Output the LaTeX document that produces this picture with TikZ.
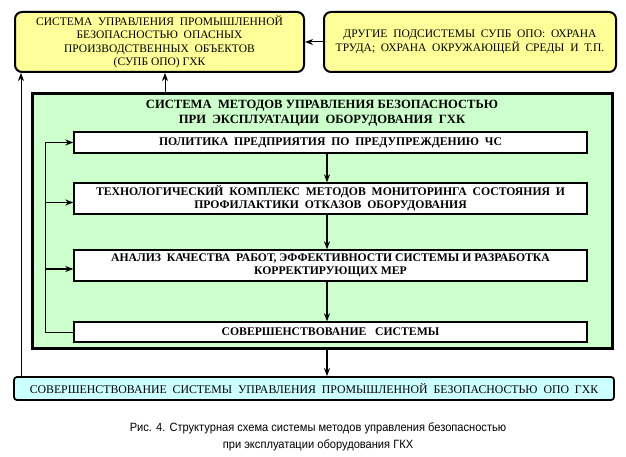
\documentclass[tikz,border=0pt]{standalone}
\usepackage{fontspec}
\setmainfont{Liberation Serif}
\newfontfamily\capfont{Liberation Sans}
\usetikzlibrary{arrows.meta,calc}
\definecolor{yel}{HTML}{FFFF99}
\definecolor{grn}{HTML}{CCFFCC}
\definecolor{cyn}{HTML}{CCFFFF}
\tikzset{
  ybox/.style={draw, line width=2pt, fill=yel, rounded corners=7pt, align=center, inner sep=0pt, font=\fontsize{11.5}{13.5}\selectfont},
  wbox/.style={draw, line width=1.3pt, fill=white, minimum width=513pt, align=center, inner sep=0pt, font=\bfseries\fontsize{11.7}{13}\selectfont},
  tip/.style={-{Stealth[length=8pt,width=6pt,inset=2.5pt]}},
  thin/.style={line width=1pt},
  thick2/.style={line width=1.8pt},
}
\begin{document}
\begin{tikzpicture}[x=1pt,y=-1pt]
\useasboundingbox (0,0) rectangle (626,457);
\node[ybox, minimum width=289pt, minimum height=60pt] (tl) at (159.5,42) {СИСТЕМА\ \ УПРАВЛЕНИЯ\ \ ПРОМЫШЛЕННОЙ\\БЕЗОПАСНОСТЬЮ\ \ ОПАСНЫХ\\ПРОИЗВОДСТВЕННЫХ\ \ ОБЪЕКТОВ\\(СУПБ ОПО) ГХК};
\node[ybox, minimum width=292pt, minimum height=60pt] (tr) at (470,42) {ДРУГИЕ\ \ ПОДСИСТЕМЫ\ \ СУПБ\ \ ОПО:\ \ ОХРАНА\\ТРУДА;\ \ ОХРАНА\ \ ОКРУЖАЮЩЕЙ\ \ СРЕДЫ\ \ И\ \ Т.П.};
\node[draw, line width=2.5pt, fill=grn, minimum width=580pt, minimum height=255pt, inner sep=0pt] (gr) at (322.5,221) {};
\node[align=center, inner sep=0pt, font=\bfseries\fontsize{12.6}{15}\selectfont] (title) at (322,113) {СИСТЕМА\ \ МЕТОДОВ УПРАВЛЕНИЯ БЕЗОПАСНОСТЬЮ\\ПРИ\ \ ЭКСПЛУАТАЦИИ\ \ ОБОРУДОВАНИЯ\ \ ГХК};
\node[wbox, minimum height=21pt] (b1) at (330.5,142.5) {ПОЛИТИКА\ \ ПРЕДПРИЯТИЯ\ \ ПО\ \ ПРЕДУПРЕЖДЕНИЮ\ \ ЧС};
\node[wbox, minimum height=31pt] (b2) at (330.5,198.5) {ТЕХНОЛОГИЧЕСКИЙ\ \ КОМПЛЕКС\ \ МЕТОДОВ\ \ МОНИТОРИНГА\ \ СОСТОЯНИЯ\ \ И\\ПРОФИЛАКТИКИ\ \ ОТКАЗОВ\ \ ОБОРУДОВАНИЯ};
\node[wbox, minimum height=31pt] (b3) at (330.5,265.5) {АНАЛИЗ\ \ КАЧЕСТВА\ \ РАБОТ, ЭФФЕКТИВНОСТИ СИСТЕМЫ И РАЗРАБОТКА\\КОРРЕКТИРУЮЩИХ МЕР};
\node[wbox, minimum height=20pt] (b4) at (330.5,332) {СОВЕРШЕНСТВОВАНИЕ\ \ \ СИСТЕМЫ};
\node[draw, line width=1.8pt, fill=cyn, rounded corners=3pt, minimum width=600pt, minimum height=23pt, inner sep=0pt, font=\fontsize{11.8}{13}\selectfont] (bot) at (314,388.5) {СОВЕРШЕНСТВОВАНИЕ\ \ СИСТЕМЫ\ \ УПРАВЛЕНИЯ\ \ ПРОМЫШЛЕННОЙ\ \ БЕЗОПАСНОСТЬЮ\ \ ОПО\ \ ГХК};
\node[align=center, inner sep=0pt, font=\capfont\fontsize{12}{17}\selectfont] (cap) at (318,437) {\scalebox{0.925}[1]{Рис. 4. Структурная схема системы методов управления безопасностью}\\\scalebox{0.925}[1]{при эксплуатации оборудования ГКХ}};
% axes
\coordinate (ax) at (327,0);
\coordinate (fx) at (45,0);
\coordinate (lx) at (21,0);
\coordinate (ux) at (165,0);
% connectors
\draw[thin, tip] (tr.west) -- (tl.east);
\draw[thin, tip] (gr.north -| ux) -- (tl.south -| ux);
\draw[thin, tip] (bot.north -| lx) -- (tl.south -| lx);
\draw[thick2, tip] (b1.south -| ax) -- (b2.north -| ax);
\draw[thick2, tip] (b2.south -| ax) -- (b3.north -| ax);
\draw[thick2, tip] (b3.south -| ax) -- (b4.north -| ax);
\draw[thick2, tip] (gr.south -| ax) -- (bot.north -| ax);
\coordinate (f1) at (b1.west -| fx);
\draw[thin] (b4.west) -- (b4.west -| fx) -- (f1);
\draw[thick2, tip] (f1) -- (b1.west);
\draw[thick2, tip] ($(b2.west -| fx)+(0,4)$) -- ($(b2.west)+(0,4)$);
\draw[thick2, tip] ($(b3.west -| fx)+(0,3.5)$) -- ($(b3.west)+(0,3.5)$);
\end{tikzpicture}
\end{document}
